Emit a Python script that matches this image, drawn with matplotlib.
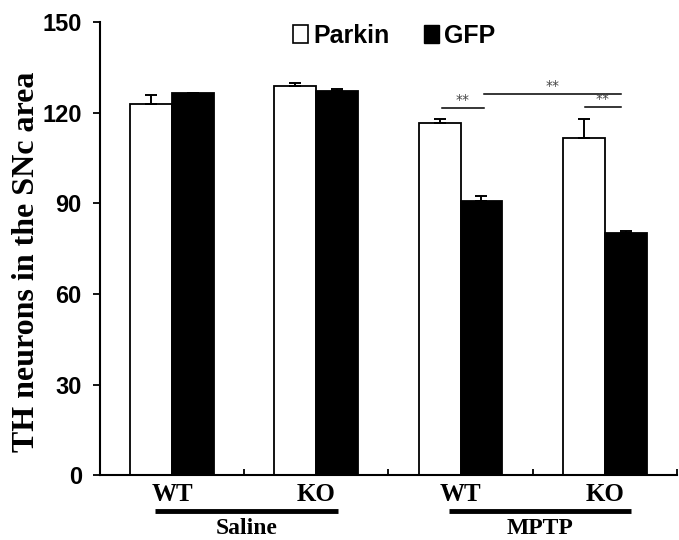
import matplotlib
matplotlib.use("Agg")
import matplotlib.pyplot as plt
from matplotlib.patches import Patch
import numpy as np

# data
groups = ["WT", "KO", "WT", "KO"]
treatments = ["Saline", "MPTP"]
parkin = [123, 129, 116.7, 111.5]
parkin_err = [2.9, 0.9, 1.3, 6.5]
gfp = [126.6, 127.3, 90.7, 80.1]
gfp_err = [0, 0.7, 1.7, 0.9]
yticks = [0, 30, 60, 90, 120, 150]

serif = "Liberation Serif"
sans = "Liberation Sans"

fig = plt.figure(figsize=(6.79, 5.4), dpi=100)
ax = fig.add_axes([0.147, 0.120, 0.850, 0.839])

x = np.arange(len(groups))
w = 0.29
ekw = dict(elinewidth=1.4, capthick=1.4)
ax.bar(x - w / 2, parkin, w, color="white", edgecolor="black", linewidth=1.3,
       yerr=[[0] * 4, parkin_err], capsize=4.5, error_kw=ekw, zorder=2)
ax.bar(x + w / 2, gfp, w, color="black", edgecolor="black", linewidth=1.3,
       yerr=[[0] * 4, gfp_err], capsize=4.5, error_kw=ekw, zorder=2)

ax.set_xlim(-0.5, 3.5)
ax.set_ylim(0, 150)
ax.set_yticks(yticks)
ax.set_yticklabels([str(t) for t in yticks], fontfamily=sans,
                   fontweight="bold", fontsize=17)
ax.set_xticks([0.5, 1.5, 2.5, 3.5])
ax.set_xticklabels([])
ax.tick_params(axis="x", direction="in", length=4, width=1.3)
ax.tick_params(axis="y", direction="out", length=5, width=1.3, pad=8)
for s in ["top", "right"]:
    ax.spines[s].set_visible(False)
for s in ["left", "bottom"]:
    ax.spines[s].set_linewidth(1.5)

ax.set_ylabel("TH neurons in the SNc area", fontfamily=serif,
              fontweight="bold", fontsize=23)
ax.yaxis.set_label_coords(-0.102, 0.47)

# group labels below axis
tr = ax.get_xaxis_transform()
for xi, g in zip(x, groups):
    ax.text(xi, -0.042, g, transform=tr, ha="center", va="center",
            fontfamily=serif, fontweight="bold", fontsize=18)
spans = [(-0.12, 1.15), (1.92, 3.18)]
for (a, b), t in zip(spans, treatments):
    ax.plot([a, b], [-0.080, -0.080], transform=tr, color="black", lw=3.5,
            clip_on=False, solid_capstyle="butt")
    ax.text((a + b) / 2, -0.117, t, transform=tr, ha="center", va="center",
            fontfamily=serif, fontweight="bold", fontsize=17)

# significance markers
sig = [(1.87, 2.16, 121.5), (2.16, 3.11, 126.2), (2.86, 3.11, 121.9)]
for a, b, yv in sig:
    ax.plot([a, b], [yv, yv], color="black", lw=1.1, clip_on=False)
    ax.text((a + b) / 2, yv + 0.5, "**", ha="center", va="bottom",
            fontsize=10, color="#444444")

handles = [Patch(facecolor="white", edgecolor="black", linewidth=1.2),
           Patch(facecolor="black", edgecolor="black")]
ax.legend(handles, ["Parkin", "GFP"], loc="center", bbox_to_anchor=(0.51, 0.97),
          ncol=2, frameon=False, handlelength=0.6, handleheight=0.7,
          handletextpad=0.2, columnspacing=1.4,
          prop=dict(family=sans, weight="bold", size=18))

fig.savefig("out.png", dpi=100)
